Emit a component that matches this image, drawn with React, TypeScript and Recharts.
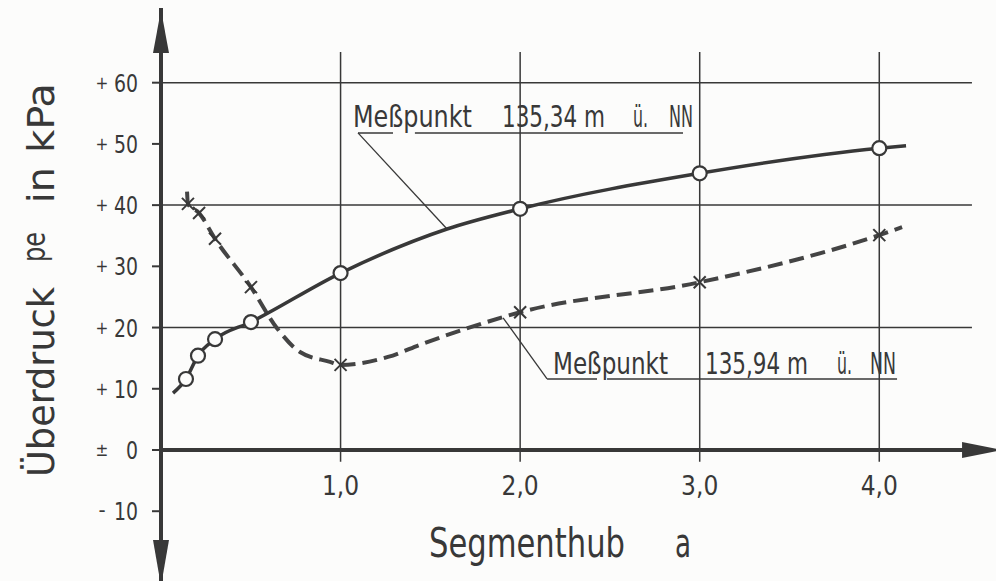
import { ComposedChart, Line, Scatter, XAxis, YAxis, ReferenceLine, ReferenceDot } from 'recharts';

const INK = '#383838';
const PAPER = '#fcfcfb';
const FONT = "'DejaVu Sans Condensed', 'DejaVu Sans', sans-serif";

// Meßpunkt 135,34 m ü. NN  (solid line, circles)
const upperA = [0.139, 0.206, 0.301, 0.501, 1.0, 2.0, 3.0, 4.0];
const upperP = [11.6, 15.4, 18.1, 20.9, 28.9, 39.4, 45.2, 49.3];
// extra points (ends, leader point)
const upperCurveA = [0.067, 1.593, 4.149];
const upperCurveP = [9.3, 36.1, 49.7];

// Meßpunkt 135,94 m ü. NN  (dashed line, crosses)
const lowerA = [0.15, 0.212, 0.301, 0.501, 1.0, 2.0, 3.0, 4.0];
const lowerP = [40.2, 38.7, 34.5, 26.6, 13.9, 22.5, 27.4, 35.1];
const lowerCurveA = [0.145, 0.646, 0.774, 0.941, 1.264, 1.452, 1.76, 4.127];
const lowerCurveP = [42.2, 19.9, 16.0, 14.4, 15.2, 17.3, 20.4, 36.4];

const xTicks = [1, 2, 3, 4];
const xTickLabels = ['1,0', '2,0', '3,0', '4,0'];
const yTicks = [-10, 0, 10, 20, 30, 40, 50, 60];
const yGrid = [20, 40, 60];

const pts = (a: number[], p: number[]) => a.map((v, i) => ({ a: v, p: p[i] }));
const curve = (a: number[], p: number[], ea: number[], ep: number[]) =>
  [...pts(a, p), ...pts(ea, ep)].sort((m, n) => m.a - n.a);

const upperPts = pts(upperA, upperP);
const lowerPts = pts(lowerA, lowerP);
const upperCurve = curve(upperA, upperP, upperCurveA, upperCurveP);
const lowerCurve = curve(lowerA, lowerP, lowerCurveA, lowerCurveP);

const txt = (text: string, size = 26, extra: any = {}) => (p: any) => (
  <text x={p.cx} y={p.cy} fontSize={size} fontFamily={FONT} fill={INK} {...extra}>
    {text}
  </text>
);

// one line of lettering, words spread out like the drawing: [word, offset, width]
const row = (words: [string, number, number][], size = 30) => (p: any) => (
  <text y={p.cy} fontSize={size} fontFamily={FONT} fill={INK}>
    {words.map(([w, dx, len]) => (
      <tspan key={w + dx} x={p.cx + dx} textLength={len} lengthAdjust="spacingAndGlyphs">
        {w}
      </tspan>
    ))}
  </text>
);

// rotated (reads bottom to top)
const vtxt = (text: string, width: number, size = 38) => (p: any) => (
  <g transform={`translate(${p.cx} ${p.cy}) rotate(-90)`}>
    <text x={0} y={0} fontSize={size} fontFamily={FONT} fill={INK} textLength={width} lengthAdjust="spacingAndGlyphs">
      {text}
    </text>
  </g>
);

const YTick = ({ x, y, payload }: any) => {
  const v = payload.value;
  const sign = v > 0 ? '+' : v === 0 ? '±' : '-';
  const num = String(Math.abs(v));
  return (
    <text y={y + 9} fill={INK} fontFamily={FONT}>
      <tspan x={x - 36} y={y + 6} fontSize={v < 0 ? 22 : 17} textAnchor="middle">{sign}</tspan>
      <tspan x={x} y={y + 9} fontSize={25} textAnchor="end" textLength={num.length * 12} lengthAdjust="spacingAndGlyphs">
        {num}
      </tspan>
    </text>
  );
};

const Circle = (p: any) => <circle cx={p.cx} cy={p.cy} r={7} fill={PAPER} stroke={INK} strokeWidth={2.2} />;
const Cross = (p: any) => (
  <g stroke={INK} strokeWidth={2}>
    <line x1={p.cx - 6} y1={p.cy - 6} x2={p.cx + 6} y2={p.cy + 6} />
    <line x1={p.cx - 6} y1={p.cy + 6} x2={p.cx + 6} y2={p.cy - 6} />
  </g>
);

const ArrowUp = (p: any) => <polygon points={`${p.cx - 8},${p.cy} ${p.cx},${p.cy - 43} ${p.cx + 8},${p.cy}`} fill={INK} />;
const ArrowDown = (p: any) => <polygon points={`${p.cx - 8},${p.cy} ${p.cx},${p.cy + 46} ${p.cx + 8},${p.cy}`} fill={INK} />;
const ArrowRight = (p: any) => <polygon points={`${p.cx},${p.cy - 8} ${p.cx + 40},${p.cy} ${p.cx},${p.cy + 8}`} fill={INK} />;

export default function App() {
  return (
    <div style={{ position: 'fixed', left: 0, top: 0, width: 996, height: 581, background: PAPER }}>
      <ComposedChart width={996} height={581} margin={{ top: 8, right: 0, bottom: 0, left: 0 }}>
        <XAxis type="number" dataKey="a" domain={[0, 4.65]} allowDataOverflow hide />
        <YAxis
          type="number"
          dataKey="p"
          domain={[-21.4, 72.2]}
          allowDataOverflow
          width={161}
          ticks={yTicks}
          interval={0}
          tickSize={9}
          tickMargin={14}
          axisLine={{ stroke: INK, strokeWidth: 4 }}
          tickLine={{ stroke: INK, strokeWidth: 2 }}
          tick={<YTick />}
        />

        {/* grid */}
        {yGrid.map((g) => (
          <ReferenceLine key={`h${g}`} segment={[{ x: 0, y: g }, { x: 4.516, y: g }]} stroke={INK} strokeWidth={1.5} ifOverflow="visible" />
        ))}
        {xTicks.map((t) => (
          <ReferenceLine key={`v${t}`} segment={[{ x: t, y: -1.9 }, { x: t, y: 65 }]} stroke={INK} strokeWidth={1.5} ifOverflow="visible" />
        ))}
        {xTicks.map((t, i) => (
          <ReferenceDot key={`l${t}`} x={t} y={-7.35} r={0} ifOverflow="visible" shape={txt(xTickLabels[i], 26, { textAnchor: 'middle' })} />
        ))}

        {/* axes */}
        <ReferenceLine segment={[{ x: 0, y: 0 }, { x: 4.47, y: 0 }]} stroke={INK} strokeWidth={4} ifOverflow="visible" />
        <ReferenceDot x={4.461} y={0} r={0} ifOverflow="visible" shape={ArrowRight} />
        <ReferenceDot x={0} y={64.85} r={0} ifOverflow="visible" shape={ArrowUp} />
        <ReferenceDot x={0} y={-14.7} r={0} ifOverflow="visible" shape={ArrowDown} />

        {/* axis titles */}
        <ReferenceDot x={-0.596} y={-4.41} r={0} ifOverflow="visible" shape={vtxt('Überdruck', 190)} />
        <ReferenceDot x={-0.646} y={30.7} r={0} ifOverflow="visible" shape={vtxt('pe', 30, 32)} />
        <ReferenceDot x={-0.596} y={40.3} r={0} ifOverflow="visible" shape={vtxt('in', 36)} />
        <ReferenceDot x={-0.596} y={48.5} r={0} ifOverflow="visible" shape={vtxt('kPa', 70)} />
        <ReferenceDot
          x={1.4925}
          y={-17.48}
          r={0}
          ifOverflow="visible"
          shape={row([['Segmenthub', 0, 196], ['a', 246, 16]], 40)}
        />

        {/* annotation: upper curve */}
        <ReferenceLine segment={[{ x: 1.097, y: 51.8 }, { x: 1.292, y: 51.8 }]} stroke={INK} strokeWidth={1.5} ifOverflow="visible" />
        <ReferenceLine segment={[{ x: 1.414, y: 51.8 }, { x: 2.907, y: 51.8 }]} stroke={INK} strokeWidth={1.5} ifOverflow="visible" />
        <ReferenceLine segment={[{ x: 1.097, y: 51.8 }, { x: 1.593, y: 36.1 }]} stroke={INK} strokeWidth={1.3} ifOverflow="visible" />
        <ReferenceDot
          x={1.069}
          y={52.76}
          r={0}
          ifOverflow="visible"
          shape={row([['Meßpunkt', 0, 119], ['135,34 m', 149, 103], ['ü.', 280, 15], ['NN', 316, 24]])}
        />

        {/* annotation: lower curve */}
        <ReferenceLine segment={[{ x: 2.15, y: 11.6 }, { x: 2.428, y: 11.6 }]} stroke={INK} strokeWidth={1.5} ifOverflow="visible" />
        <ReferenceLine segment={[{ x: 2.484, y: 11.6 }, { x: 4.099, y: 11.6 }]} stroke={INK} strokeWidth={1.5} ifOverflow="visible" />
        <ReferenceLine segment={[{ x: 2.15, y: 11.6 }, { x: 1.905, y: 21.6 }]} stroke={INK} strokeWidth={1.3} ifOverflow="visible" />
        <ReferenceDot
          x={2.183}
          y={12.41}
          r={0}
          ifOverflow="visible"
          shape={row([['Meßpunkt', 0, 115], ['135,94 m', 152, 103], ['ü.', 284, 15], ['NN', 317, 26]])}
        />

        {/* series */}
        <Line data={lowerCurve} dataKey="p" type="monotone" stroke="#444" strokeWidth={4} strokeDasharray="15 7" dot={false} activeDot={false} isAnimationActive={false} />
        <Line data={upperCurve} dataKey="p" type="monotone" stroke={INK} strokeWidth={3.5} dot={false} activeDot={false} isAnimationActive={false} />
        <Scatter data={lowerPts} dataKey="p" shape={Cross} isAnimationActive={false} />
        <Scatter data={upperPts} dataKey="p" shape={Circle} isAnimationActive={false} />
      </ComposedChart>
    </div>
  );
}
